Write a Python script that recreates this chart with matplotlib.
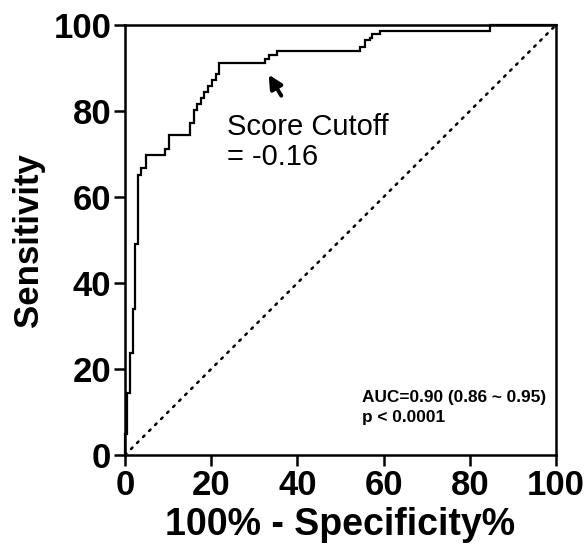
import matplotlib
matplotlib.use("Agg")
import matplotlib.pyplot as plt

# ROC curve vertices (100% - Specificity%, Sensitivity%)
fpr = [0, 0, 0.5, 0.5, 1.2, 1.2, 1.9, 1.9, 2.3, 2.3, 3.1, 3.1, 3.7, 3.7, 4.9, 4.9,
       9.3, 9.3, 10.2, 10.2, 15.1, 15.1, 16.0, 16.0, 16.8, 16.8, 17.6, 17.6,
       18.4, 18.4, 19.3, 19.3, 20.2, 20.2, 21.0, 21.0, 21.8, 21.8,
       32.5, 32.5, 33.4, 33.4, 35.2, 35.2, 54.5, 54.5, 55.7, 55.7, 56.8, 56.8,
       57.3, 57.3, 59.2, 59.2, 84.7, 84.7, 100]
tpr = [0, 5, 5, 14.4, 14.4, 23.7, 23.7, 34.0, 34.0, 49.0, 49.0, 65.1, 65.1, 66.7, 66.7, 69.8,
       69.8, 71.2, 71.2, 74.4, 74.4, 77.2, 77.2, 80.2, 80.2, 81.6, 81.6, 83.0,
       83.0, 84.4, 84.4, 85.8, 85.8, 87.2, 87.2, 88.6, 88.6, 91.2,
       91.2, 92.1, 92.1, 93.0, 93.0, 93.9, 93.9, 95.0, 95.0, 96.5, 96.5, 97.0,
       97.0, 97.8, 97.8, 98.7, 98.7, 100, 100]

ref_x = [0, 100]
ref_y = [0, 100]
ticks = [0, 20, 40, 60, 80, 100]

plt.rcParams['font.family'] = ['Liberation Sans', 'DejaVu Sans']

fig = plt.figure(figsize=(5.85, 5.44), dpi=100)
ax = fig.add_axes([0.2137, 0.1636, 0.7367, 0.7904])

ax.plot(fpr, tpr, color='black', lw=1.6, solid_joinstyle='miter', clip_on=False, zorder=3)
ax.plot(ref_x, ref_y, color='black', lw=1.8, linestyle=(0, (0.8, 2.6)),
        dash_capstyle='round', zorder=2)

ax.set_xlim(0, 100)
ax.set_ylim(0, 100)
ax.set_xticks(ticks)
ax.set_yticks(ticks)
ax.tick_params(axis='both', which='major', direction='out', length=8, width=1.8,
               labelsize=25, pad=2)
for lab in ax.get_xticklabels() + ax.get_yticklabels():
    lab.set_fontweight('bold')
for sp in ax.spines.values():
    sp.set_linewidth(1.8)

ax.set_xlabel('100% - Specificity%', fontsize=27, fontweight='bold')
ax.set_ylabel('Sensitivity', fontsize=25, fontweight='bold')
ax.xaxis.set_label_coords(0.5, -0.163)
ax.yaxis.set_label_coords(-0.225, 0.5)
ax.xaxis.label.set_va('center')
ax.yaxis.label.set_va('center')

ax.annotate('', xy=(33.0, 89.0), xytext=(36.6, 83.0),
            arrowprops=dict(arrowstyle='-|>,head_length=0.8,head_width=0.4',
                            color='black', lw=2.8))
ax.text(23.6, 79.6, 'Score Cutoff\n= -0.16', fontsize=21, va='top', ha='left',
        linespacing=1.1)

ax.text(55.0, 11.0, 'AUC=0.90 (0.86 ~ 0.95)\np < 0.0001', fontsize=12.4,
        fontweight='bold', va='center', ha='left', linespacing=1.45)

fig.savefig('out.png', dpi=100)
